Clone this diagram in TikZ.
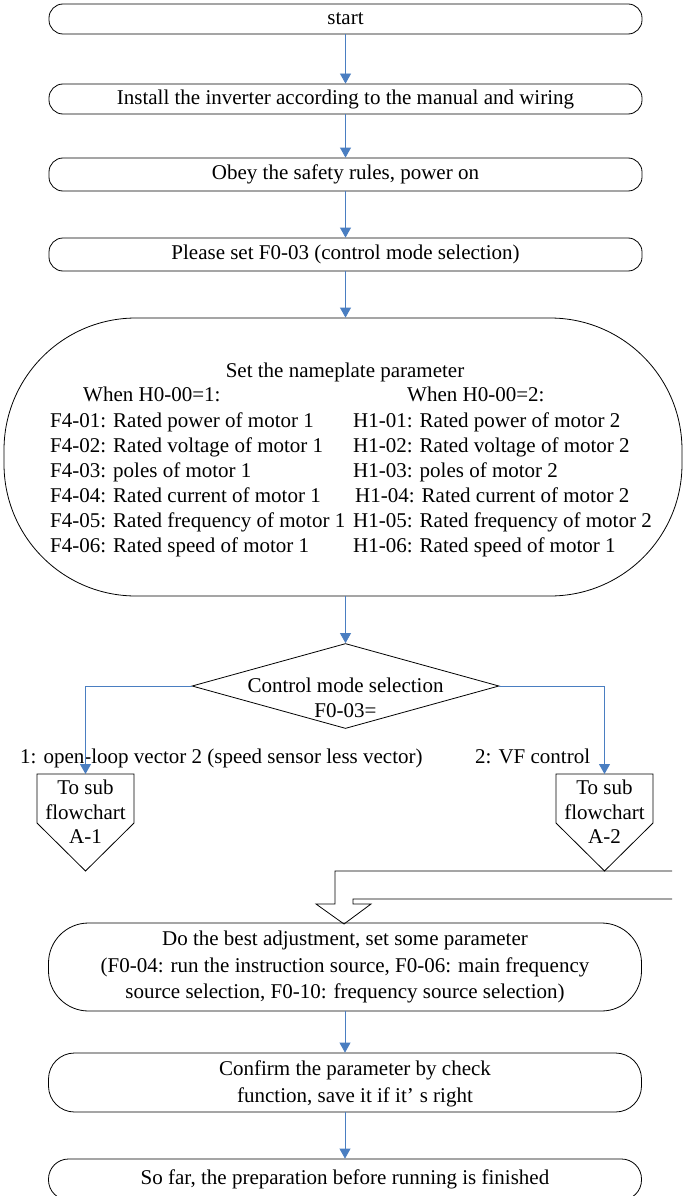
\documentclass[tikz,border=0pt]{standalone}
\usepackage{fontspec}
\setmainfont{Liberation Serif}
\usetikzlibrary{shapes.geometric,arrows.meta}
\definecolor{arrowblue}{RGB}{74,126,193}
\newcommand\diagfont{\fontsize{21}{25}\selectfont}
\begin{document}
\begin{tikzpicture}[x=1pt,y=-1pt,
  every node/.style={font=\diagfont},
  flowbox/.style={draw=black, line width=0.8pt, rounded corners=#1, minimum width=593pt, inner sep=0pt, align=center},
  flowbox/.default=14pt,
  flowarrow/.style={draw=arrowblue, line width=0.8pt, -{Triangle[width=11pt,length=10pt]}},
  tl/.style={inner sep=0pt, anchor=base west},
  outline/.style={draw=black, line width=0.8pt}]
\useasboundingbox (0,0) rectangle (683,1196);
\clip (0,0) rectangle (683,1196);

% main boxes
\node[flowbox, minimum height=30pt] (start) at (345.5,19) {start};
\node[flowbox, minimum height=30pt] (install) at (345.5,99) {Install the inverter according to the manual and wiring};
\node[flowbox, minimum height=33pt] (obey) at (345.5,174.5) {Obey the safety rules, power on};
\node[flowbox, minimum height=33pt] (please) at (345.5,254.5) {Please set F0-03 (control mode selection)};

% nameplate box
\node[outline, rounded corners=132pt, minimum width=678pt, minimum height=278pt, inner sep=0pt] (params) at (343,457) {};
\node[inner sep=0pt, anchor=base] (ptitle) at (345,377) {Set the nameplate parameter};
\node[tl] (lhead) at (83,401) {When H0-00=1:};
\node[tl] (rhead) at (407,401) {When H0-00=2:};
\node[tl] (l1) at (50,427) {F4-01: Rated power of motor 1};
\node[tl] (l2) at (50,452) {F4-02: Rated voltage of motor 1};
\node[tl] (l3) at (50,477) {F4-03: poles of motor 1};
\node[tl] (l4) at (50,502) {F4-04: Rated current of motor 1};
\node[tl] (l5) at (50,527) {F4-05: Rated frequency of motor 1};
\node[tl] (l6) at (50,552) {F4-06: Rated speed of motor 1};
\node[tl] (r1) at (353,427) {H1-01: Rated power of motor 2};
\node[tl] (r2) at (353,452) {H1-02: Rated voltage of motor 2};
\node[tl] (r3) at (353,477) {H1-03: poles of motor 2};
\node[tl] (r4) at (355,502) {H1-04: Rated current of motor 2};
\node[tl] (r5) at (353,527) {H1-05: Rated frequency of motor 2};
\node[tl] (r6) at (353,552) {H1-06: Rated speed of motor 1};

% decision
\node[outline, diamond, minimum width=307pt, minimum height=85pt, inner sep=0pt] (dia) at (345.5,686) {};
\node[inner sep=0pt, align=center] (diatext) at (345.5,698) {Control mode selection\\F0-03=};
\node[tl] (lab1) at (20,763) {1: open-loop vector 2 (speed sensor less vector)};
\node[tl] (lab2) at (475,763) {2: VF control};

% off-page connectors
\coordinate (A1top) at (85.5,774);
\coordinate (A2top) at (604.5,774);
\draw[outline] (37,774) -- (134,774) -- (134,823) -- (85.5,871) -- (37,823) -- cycle;
\draw[outline] (556,774) -- (653,774) -- (653,823) -- (604.5,871) -- (556,823) -- cycle;
\node[inner sep=0pt, align=center, font=\fontsize{21}{24.5}\selectfont] (A1) at (85.5,812) {To sub\\flowchart\\A-1};
\node[inner sep=0pt, align=center, font=\fontsize{21}{24.5}\selectfont] (A2) at (604.5,812) {To sub\\flowchart\\A-2};

% hollow elbow arrow
\draw[outline, line join=miter] (672,871) -- (335,871) -- (335,904) -- (316,904) -- (344,924) -- (371,904) -- (353,904) -- (353,899) -- (672,899);

% lower boxes
\node[flowbox=40pt, minimum height=88pt, font=\fontsize{21}{26.5}\selectfont] (best) at (345,967) {Do the best adjustment, set some parameter\\(F0-04: run the instruction source, F0-06: main frequency\\source selection, F0-10: frequency source selection)};
\node[flowbox=26pt, minimum height=59pt] (confirm) at (345,1082.5) {};
\node[inner sep=0pt, align=center, font=\fontsize{21}{27}\selectfont] (confirmtext) at (355,1084) {Confirm the parameter by check\\function, save it if it’\hspace{6pt}s right};
\node[flowbox=20pt, minimum height=41pt] (final) at (345,1179.5) {So far, the preparation before running is finished};

% connectors
\draw[flowarrow] (start.south) -- (install.north);
\draw[flowarrow] (install.south) -- (obey.north);
\draw[flowarrow] (obey.south) -- (please.north);
\draw[flowarrow] (please.south) -- (please.south |- params.north);
\draw[flowarrow] (params.south -| dia.north) -- (dia.north);
\draw[flowarrow] (dia.west) -| (A1top);
\draw[flowarrow] (dia.east) -| (A2top);
\draw[flowarrow] (best.south) -- (confirm.north);
\draw[flowarrow] (confirm.south) -- (final.north);
\end{tikzpicture}
\end{document}
